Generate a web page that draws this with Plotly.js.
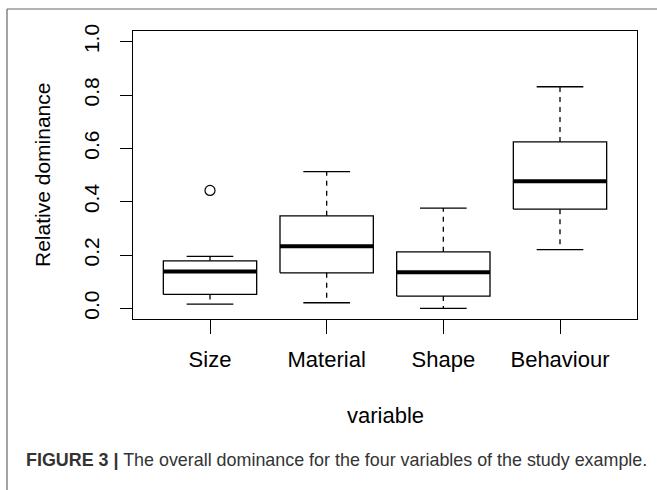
<!DOCTYPE html>
<html>
<head>
<meta charset="utf-8">
<script src="https://cdn.plot.ly/plotly-3.0.1.min.js"></script>
<style>html,body{margin:0;padding:0;background:#fff;}#chart{width:657px;height:490px;}</style>
</head>
<body>
<div id="chart"></div>
<script>
// Data (relative dominance)
const categories = ["Size", "Material", "Shape", "Behaviour"];
const lowerWhisker = [0.016, 0.021, 0.000, 0.220];
const q1Values     = [0.052, 0.133, 0.046, 0.372];
const medians      = [0.138, 0.233, 0.135, 0.477];
const q3Values     = [0.178, 0.347, 0.212, 0.624];
const upperWhisker = [0.195, 0.513, 0.376, 0.831];
const outlierCat   = ["Size"];
const outlierVals  = [0.442];
const yTickVals    = [0.0, 0.2, 0.4, 0.6, 0.8, 1.0];
const yTickText    = ["0.0", "0.2", "0.4", "0.6", "0.8", "1.0"];
const caption      = "<b>FIGURE 3 |</b> The overall dominance for the four variables of the study example.";

const BOX_HALF = 0.4, CAP_HALF = 0.2;
const pos = categories.map((c, i) => i + 1);

const boxX = [], boxY = [], medX = [], medY = [], whX = [], whY = [], capX = [], capY = [];
pos.forEach((p, i) => {
  boxX.push(p - BOX_HALF, p + BOX_HALF, p + BOX_HALF, p - BOX_HALF, p - BOX_HALF, null);
  boxY.push(q1Values[i], q1Values[i], q3Values[i], q3Values[i], q1Values[i], null);
  medX.push(p - BOX_HALF, p + BOX_HALF, null);
  medY.push(medians[i], medians[i], null);
  whX.push(p, p, null, p, p, null);
  whY.push(q3Values[i], upperWhisker[i], null, q1Values[i], lowerWhisker[i], null);
  capX.push(p - CAP_HALF, p + CAP_HALF, null, p - CAP_HALF, p + CAP_HALF, null);
  capY.push(upperWhisker[i], upperWhisker[i], null, lowerWhisker[i], lowerWhisker[i], null);
});
const outX = outlierCat.map(c => categories.indexOf(c) + 1);

const traces = [
  {x: whX, y: whY, mode: "lines", line: {color: "#000", width: 1.3, dash: "5px,5px"}, hoverinfo: "skip"},
  {x: capX, y: capY, mode: "lines", line: {color: "#000", width: 1.3}, hoverinfo: "skip"},
  {x: boxX, y: boxY, mode: "lines", line: {color: "#000", width: 1.3}, hoverinfo: "skip"},
  {x: medX, y: medY, mode: "lines", line: {color: "#000", width: 4}, hoverinfo: "skip"},
  {x: outX, y: outlierVals, mode: "markers", marker: {symbol: "circle-open", size: 10, color: "#000", line: {width: 1.2, color: "#000"}}}
];

const FONT = "Liberation Sans, Arial, sans-serif";
const layout = {
  width: 657, height: 490,
  margin: {l: 133, r: 20, t: 31, b: 171, pad: 0},
  paper_bgcolor: "#fff", plot_bgcolor: "#fff",
  showlegend: false,
  font: {family: FONT, color: "#000", size: 21},
  xaxis: {
    range: [0.34, 4.66], tickvals: pos, ticktext: categories,
    showgrid: false, zeroline: false, showline: true, mirror: true,
    linecolor: "#000", linewidth: 1.2, ticks: "outside", ticklen: 14, tickwidth: 1, tickcolor: "#000",
    tickfont: {family: FONT, size: 22, color: "#000"}, ticklabelstandoff: 6
  },
  yaxis: {
    range: [-0.04, 1.04], tickvals: yTickVals, ticktext: yTickText, tickangle: -90,
    showgrid: false, zeroline: false, showline: true, mirror: true,
    linecolor: "#000", linewidth: 1.2, ticks: "outside", ticklen: 12, tickwidth: 1, tickcolor: "#000",
    tickfont: {family: FONT, size: 21, color: "#000"}, ticklabelstandoff: 12
  },
  annotations: [
    {text: "Relative dominance", xref: "paper", yref: "paper", x: (42 - 133) / 504, y: 0.5,
     xanchor: "center", yanchor: "middle", textangle: -90, showarrow: false,
     font: {family: FONT, size: 21, color: "#000"}},
    {text: "variable", xref: "paper", yref: "paper", x: 0.5, y: (319 - 415) / 288,
     xanchor: "center", yanchor: "middle", showarrow: false,
     font: {family: FONT, size: 22, color: "#000"}},
    {text: caption, xref: "paper", yref: "paper", x: (24 - 133) / 504, y: (319 - 460) / 288,
     xanchor: "left", yanchor: "middle", showarrow: false,
     font: {family: FONT, size: 17.9, color: "#333"}}
  ],
  shapes: [
    {type: "line", xref: "paper", yref: "paper", x0: (7 - 133) / 504, x1: (657 - 133) / 504,
     y0: (319 - 9) / 288, y1: (319 - 9) / 288, line: {color: "#666", width: 1.2}},
    {type: "line", xref: "paper", yref: "paper", x0: (7 - 133) / 504, x1: (7 - 133) / 504,
     y0: (319 - 9) / 288, y1: (319 - 490) / 288, line: {color: "#666", width: 1.2}}
  ]
};

Plotly.newPlot("chart", traces, layout, {staticPlot: true, displayModeBar: false});
</script>
</body>
</html>
